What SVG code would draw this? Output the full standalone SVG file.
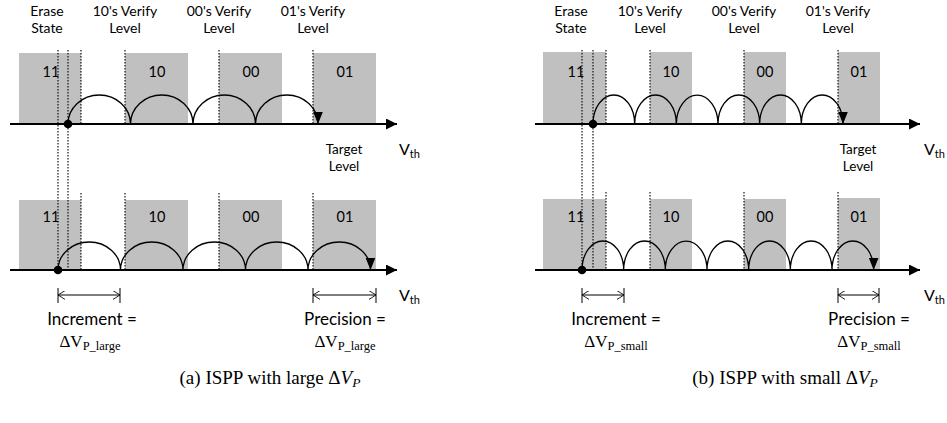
<svg xmlns="http://www.w3.org/2000/svg" width="947" height="423" viewBox="0 0 947 423">
<defs>
<style>
.bg{fill:#ffffff}
.cell{fill:#c0c0c0}
.dot{stroke:#000;stroke-width:1.1;stroke-dasharray:1.5,1.5;fill:none}
.axis{stroke:#000;stroke-width:2;fill:none}
.arc{stroke:#000;stroke-width:1.3;fill:none}
.dim{stroke:#000;stroke-width:1;fill:none}
.lbl{font-family:Lato,"Liberation Sans",sans-serif;font-size:14px;fill:#000;text-anchor:middle}
.tl{font-family:Lato,"Liberation Sans",sans-serif;font-size:13.5px;fill:#000;text-anchor:middle}
.cl{font-family:Lato,"Liberation Sans",sans-serif;font-size:14.5px;fill:#000;text-anchor:middle}
.big{font-family:Lato,"Liberation Sans",sans-serif;font-size:17px;fill:#000;text-anchor:middle}
.vth{font-family:Lato,"Liberation Sans",sans-serif;font-size:16px;fill:#000}
.dv{font-family:"Liberation Serif",serif;font-size:17px;fill:#000;text-anchor:middle}
.cap{font-family:"Liberation Serif",serif;font-size:19px;fill:#000;text-anchor:middle}
</style>
<marker id="ah" viewBox="0 0 10 10" refX="10" refY="5" markerWidth="12" markerHeight="11" markerUnits="userSpaceOnUse" orient="auto">
<path d="M0,0 L10,5 L0,10 z" fill="#000"/>
</marker>
<marker id="arcah" viewBox="0 0 10 8" refX="10" refY="4" markerWidth="12" markerHeight="10" markerUnits="userSpaceOnUse" orient="auto">
<path d="M0,0 L10,4 L0,8 z" fill="#000"/>
</marker>
<marker id="chevR" viewBox="0 0 8 10" refX="8" refY="5" markerWidth="7" markerHeight="9" markerUnits="userSpaceOnUse" orient="auto">
<path d="M0,0 L8,5 L0,10" fill="none" stroke="#000" stroke-width="1"/>
</marker>
<marker id="chevL" viewBox="0 0 8 10" refX="0" refY="5" markerWidth="7" markerHeight="9" markerUnits="userSpaceOnUse" orient="auto">
<path d="M8,0 L0,5 L8,10" fill="none" stroke="#000" stroke-width="1"/>
</marker>
</defs>
<rect class="bg" x="0" y="0" width="947" height="423"/>

<!-- Panel (a) -->
<g id="panel-a">
<g id="a-top-labels">
<text class="lbl" x="47" y="16">Erase</text>
<text class="lbl" x="47" y="33">State</text>
<text class="lbl" x="125" y="16">10's Verify</text>
<text class="lbl" x="125" y="33">Level</text>
<text class="lbl" x="219" y="16">00's Verify</text>
<text class="lbl" x="219" y="33">Level</text>
<text class="lbl" x="313" y="16">01's Verify</text>
<text class="lbl" x="313" y="33">Level</text>
</g>
<g id="a-top-cells">
<rect class="cell" x="19" y="53" width="62" height="71"/>
<rect class="cell" x="125" y="53" width="63" height="71"/>
<rect class="cell" x="219" y="53" width="63" height="71"/>
<rect class="cell" x="313" y="53" width="63" height="71"/>
<text class="cl" x="51" y="77">11</text>
<text class="cl" x="157" y="77">10</text>
<text class="cl" x="251" y="77">00</text>
<text class="cl" x="345" y="77">01</text>
</g>
<g id="a-bot-cells">
<rect class="cell" x="19" y="200" width="62" height="70"/>
<rect class="cell" x="125" y="200" width="63" height="70"/>
<rect class="cell" x="219" y="200" width="63" height="70"/>
<rect class="cell" x="313" y="200" width="63" height="70"/>
<text class="cl" x="51" y="222">11</text>
<text class="cl" x="157" y="222">10</text>
<text class="cl" x="251" y="222">00</text>
<text class="cl" x="345" y="222">01</text>
</g>
<g id="a-dotted">
<line class="dot" x1="58" y1="50" x2="58" y2="270"/>
<line class="dot" x1="68" y1="50" x2="68" y2="270"/>
<line class="dot" x1="81" y1="50" x2="81" y2="124"/>
<line class="dot" x1="125" y1="50" x2="125" y2="124"/>
<line class="dot" x1="219" y1="50" x2="219" y2="124"/>
<line class="dot" x1="313" y1="50" x2="313" y2="124"/>
<line class="dot" x1="81" y1="193" x2="81" y2="270"/>
<line class="dot" x1="125" y1="193" x2="125" y2="270"/>
<line class="dot" x1="219" y1="193" x2="219" y2="270"/>
<line class="dot" x1="313" y1="193" x2="313" y2="270"/>
</g>
<g id="a-connectors">
<line class="axis" x1="10" y1="124" x2="397" y2="124" marker-end="url(#ah)"/>
<line class="axis" x1="10" y1="270" x2="397" y2="270" marker-end="url(#ah)"/>
<path class="arc" d="M68,124 A31.25,29 0 0 1 130.5,124 A31.25,29 0 0 1 193,124 A31.25,29 0 0 1 255.5,124 A31.25,29 0 0 1 318,124" marker-end="url(#arcah)"/>
<path class="arc" d="M58,270 A31.25,28 0 0 1 120.5,270 A31.25,28 0 0 1 183,270 A31.25,28 0 0 1 245.5,270 A31.25,28 0 0 1 308,270 A31.25,28 0 0 1 370.5,270" marker-end="url(#arcah)"/>
<line class="dim" x1="58" y1="295" x2="120" y2="295" marker-start="url(#chevL)" marker-end="url(#chevR)"/>
<line class="dim" x1="58" y1="288" x2="58" y2="303"/>
<line class="dim" x1="120" y1="288" x2="120" y2="303"/>
<line class="dim" x1="313" y1="295" x2="376" y2="295" marker-start="url(#chevL)" marker-end="url(#chevR)"/>
<line class="dim" x1="313" y1="288" x2="313" y2="303"/>
<line class="dim" x1="376" y1="288" x2="376" y2="303"/>
</g>
<circle cx="68" cy="124" r="4.3" fill="#000"/>
<circle cx="58" cy="270" r="4.3" fill="#000"/>
<g id="a-text">
<text class="tl" x="344" y="154">Target</text>
<text class="tl" x="344" y="171">Level</text>
<text class="vth" x="399" y="155">V<tspan font-size="11" dy="3">th</tspan></text>
<text class="vth" x="399" y="301">V<tspan font-size="11" dy="3">th</tspan></text>
<text class="big" x="92" y="325">Increment =</text>
<text class="dv" x="90" y="347">ΔV<tspan font-size="12.5" dy="3">P_large</tspan></text>
<text class="big" x="345" y="325">Precision =</text>
<text class="dv" x="345" y="347">ΔV<tspan font-size="12.5" dy="3">P_large</tspan></text>
<text class="cap" x="270" y="384">(a) ISPP with large Δ<tspan font-style="italic">V</tspan><tspan font-style="italic" font-size="13.5" dy="3">P</tspan></text>
</g>
</g>

<!-- Panel (b) -->
<g id="panel-b">
<g id="b-top-labels">
<text class="lbl" x="571" y="16">Erase</text>
<text class="lbl" x="571" y="33">State</text>
<text class="lbl" x="650" y="16">10's Verify</text>
<text class="lbl" x="650" y="33">Level</text>
<text class="lbl" x="744" y="16">00's Verify</text>
<text class="lbl" x="744" y="33">Level</text>
<text class="lbl" x="838" y="16">01's Verify</text>
<text class="lbl" x="838" y="33">Level</text>
</g>
<g id="b-top-cells">
<rect class="cell" x="543" y="52" width="63" height="72"/>
<rect class="cell" x="650" y="52" width="42" height="72"/>
<rect class="cell" x="744" y="52" width="42" height="72"/>
<rect class="cell" x="838" y="52" width="42" height="72"/>
<text class="cl" x="576" y="77">11</text>
<text class="cl" x="671" y="77">10</text>
<text class="cl" x="765" y="77">00</text>
<text class="cl" x="859" y="77">01</text>
</g>
<g id="b-bot-cells">
<rect class="cell" x="543" y="199" width="63" height="71"/>
<rect class="cell" x="650" y="199" width="42" height="71"/>
<rect class="cell" x="744" y="199" width="42" height="71"/>
<rect class="cell" x="838" y="198" width="42" height="72"/>
<text class="cl" x="576" y="222">11</text>
<text class="cl" x="671" y="222">10</text>
<text class="cl" x="765" y="222">00</text>
<text class="cl" x="859" y="222">01</text>
</g>
<g id="b-dotted">
<line class="dot" x1="582" y1="50" x2="582" y2="270"/>
<line class="dot" x1="593" y1="50" x2="593" y2="270"/>
<line class="dot" x1="606" y1="50" x2="606" y2="124"/>
<line class="dot" x1="650" y1="50" x2="650" y2="124"/>
<line class="dot" x1="744" y1="50" x2="744" y2="124"/>
<line class="dot" x1="838" y1="50" x2="838" y2="124"/>
<line class="dot" x1="606" y1="192" x2="606" y2="270"/>
<line class="dot" x1="650" y1="192" x2="650" y2="270"/>
<line class="dot" x1="744" y1="192" x2="744" y2="270"/>
<line class="dot" x1="838" y1="192" x2="838" y2="270"/>
</g>
<g id="b-connectors">
<line class="axis" x1="535" y1="124" x2="920" y2="124" marker-end="url(#ah)"/>
<line class="axis" x1="535" y1="270" x2="920" y2="270" marker-end="url(#ah)"/>
<path class="arc" d="M593,124 A20.83,29 0 0 1 634.67,124 A20.83,29 0 0 1 676.33,124 A20.83,29 0 0 1 718,124 A20.83,29 0 0 1 759.67,124 A20.83,29 0 0 1 801.33,124 A20.83,29 0 0 1 843,124" marker-end="url(#arcah)"/>
<path class="arc" d="M582,270 A20.83,29 0 0 1 623.67,270 A20.83,29 0 0 1 665.33,270 A20.83,29 0 0 1 707,270 A20.83,29 0 0 1 748.67,270 A20.83,29 0 0 1 790.33,270 A20.83,29 0 0 1 832,270 A20.83,29 0 0 1 873.67,270" marker-end="url(#arcah)"/>
<line class="dim" x1="582" y1="295" x2="624" y2="295" marker-start="url(#chevL)" marker-end="url(#chevR)"/>
<line class="dim" x1="582" y1="288" x2="582" y2="303"/>
<line class="dim" x1="624" y1="288" x2="624" y2="303"/>
<line class="dim" x1="838" y1="295" x2="879" y2="295" marker-start="url(#chevL)" marker-end="url(#chevR)"/>
<line class="dim" x1="838" y1="288" x2="838" y2="303"/>
<line class="dim" x1="879" y1="288" x2="879" y2="303"/>
</g>
<circle cx="593" cy="124" r="4.3" fill="#000"/>
<circle cx="582" cy="270" r="4.3" fill="#000"/>
<g id="b-text">
<text class="tl" x="858" y="154">Target</text>
<text class="tl" x="858" y="171">Level</text>
<text class="vth" x="924" y="155">V<tspan font-size="11" dy="3">th</tspan></text>
<text class="vth" x="924" y="301">V<tspan font-size="11" dy="3">th</tspan></text>
<text class="big" x="616" y="325">Increment =</text>
<text class="dv" x="616" y="347">ΔV<tspan font-size="12.5" dy="3">P_small</tspan></text>
<text class="big" x="869" y="325">Precision =</text>
<text class="dv" x="869" y="347">ΔV<tspan font-size="12.5" dy="3">P_small</tspan></text>
<text class="cap" x="785" y="384">(b) ISPP with small Δ<tspan font-style="italic">V</tspan><tspan font-style="italic" font-size="13.5" dy="3">P</tspan></text>
</g>
</g>
</svg>
